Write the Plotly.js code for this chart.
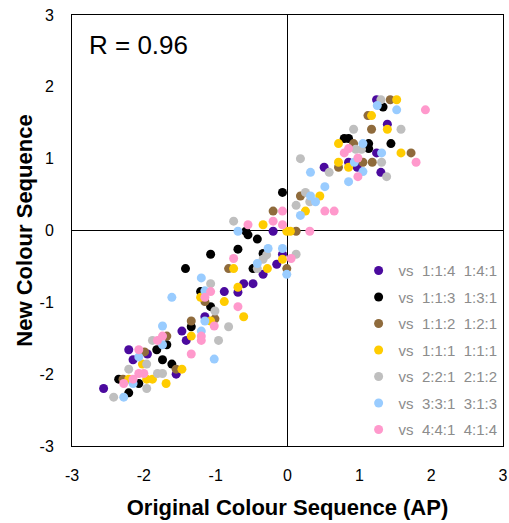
<!DOCTYPE html>
<html>
<head>
<meta charset="utf-8">
<script src="https://cdn.plot.ly/plotly-2.35.2.min.js"></script>
<style>html,body{margin:0;padding:0;background:#fff;}#chart{width:509px;height:523px;}</style>
</head>
<body>
<div id="chart"></div>
<script>
const seriesNames = ["vs\u00a0\u00a01:1:4\u00a0\u00a01:4:1","vs\u00a0\u00a01:1:3\u00a0\u00a01:3:1","vs\u00a0\u00a01:1:2\u00a0\u00a01:2:1","vs\u00a0\u00a01:1:1\u00a0\u00a01:1:1","vs\u00a0\u00a02:2:1\u00a0\u00a02:1:2","vs\u00a0\u00a03:3:1\u00a0\u00a03:1:3","vs\u00a0\u00a04:4:1\u00a0\u00a04:1:4"];
const seriesColors = ["#4b0a9e","#000000","#8f6b3c","#ffcc00","#bfbfbf","#99ccff","#ff99cc"];

const purpleX = [1.24,1.39,1.24,0.85,0.97,0.51,1.30,-0.20,-0.07,-0.15,-0.34,-0.61,-0.48,-0.88,-0.69,-1.15,-1.47,-1.41,-2.21,-2.15,-1.95,-1.55,-2.56];
const purpleY = [1.82,1.48,1.08,0.95,0.88,0.88,0.81,-0.01,-0.33,-0.47,-0.61,-0.74,-0.74,-0.85,-0.86,-1.20,-1.40,-1.53,-1.66,-1.80,-1.72,-2.00,-2.20];

const blackX = [1.33,0.79,0.85,1.13,1.13,1.44,-0.07,-0.58,-0.55,-0.42,-0.69,-1.07,-1.42,-0.48,-0.34,-1.21,-1.07,-1.34,-1.82,-1.74,-1.61,-2.35,-2.07,-2.21,-1.68];
const blackY = [1.72,1.28,1.28,1.21,1.14,1.21,0.53,-0.01,-0.06,-0.12,-0.26,-0.33,-0.53,-0.53,-0.32,-0.85,-1.06,-1.34,-1.66,-1.80,-1.86,-2.07,-2.13,-2.26,-1.59];

const brownX = [1.43,1.12,1.17,0.92,1.72,1.05,1.18,0.71,0.18,-0.20,0.12,-0.01,-0.82,-1.34,-1.01,-1.15,-1.68,-1.99,-1.55,-2.29];
const brownY = [1.82,1.60,1.41,1.21,1.08,0.95,0.95,0.88,0.48,0.27,-0.01,-0.53,-0.53,-1.26,-1.23,-0.99,-1.47,-1.69,-1.93,-2.07];

const yellowX = [1.52,1.17,1.39,0.71,1.58,0.71,0.85,0.45,0.25,-0.34,-0.01,0.04,-0.07,-0.75,-0.28,-0.69,-1.21,-0.88,-0.61,-1.07,-1.34,-2.02,-1.47,-1.96,-1.88,-1.69,-2.21];
const yellowY = [1.82,1.60,1.41,1.21,1.08,0.95,0.88,0.48,0.27,0.08,-0.01,-0.01,-0.40,-0.53,-0.53,-0.79,-0.93,-0.99,-1.20,-1.26,-1.47,-1.86,-1.93,-2.07,-2.07,-2.13,-2.07];

const grayX = [1.30,0.92,1.58,0.95,1.03,0.18,1.31,0.58,1.38,0.25,0.12,0.31,-0.75,-0.29,-0.34,0.12,-0.42,-1.07,-1.01,-0.82,-0.96,-1.88,-1.96,-2.21,-1.81,-1.74,-1.96,-2.42];
const grayY = [1.82,1.41,1.41,1.13,1.13,1.00,0.95,0.81,0.75,0.53,0.35,0.40,0.13,-0.34,-0.40,-0.33,-0.53,-0.74,-1.12,-1.34,-1.53,-1.53,-1.86,-1.93,-1.99,-1.99,-2.20,-2.32];

const blueX = [1.25,1.52,1.05,1.31,0.93,1.05,0.32,0.85,0.52,0.32,0.39,0.18,-0.69,-0.27,-0.07,-0.42,-0.01,-1.20,-1.15,-1.61,-1.15,-1.20,-1.74,-1.02,-1.74,-2.07,-2.15,-2.28];
const blueY = [1.74,1.68,1.21,1.08,0.95,0.82,0.81,0.68,0.61,0.48,0.40,0.21,-0.01,-0.25,-0.25,-0.46,-0.61,-0.66,-0.84,-0.93,-1.26,-1.40,-1.33,-1.79,-1.59,-1.76,-2.13,-2.32];

const pinkX = [1.92,1.79,0.85,0.79,0.98,0.98,-0.07,0.52,0.65,-0.55,-0.20,-0.07,0.31,0.05,-0.75,-1.07,-1.15,-0.69,-1.02,-1.20,-1.20,-1.81,-1.74,-1.34,-2.07,-2.07,-2.00,-2.15,-2.28];
const pinkY = [1.68,0.95,1.14,1.08,1.01,0.75,0.27,0.27,0.27,0.08,0.13,0.08,-0.01,-0.39,-0.39,-0.85,-0.93,-1.06,-1.33,-1.47,-1.53,-1.53,-1.47,-1.72,-1.66,-1.99,-1.99,-2.07,-2.13];

const tickVals = [-3,-2,-1,0,1,2,3];
const tickText = ["-3","-2","-1","0","1","2","3"];
const xTitle = "Original Colour Sequence (AP)";
const yTitle = "New Colour Sequence";
const rLabel = "R = 0.96";

const xs = [purpleX, blackX, brownX, yellowX, grayX, blueX, pinkX];
const ys = [purpleY, blackY, brownY, yellowY, grayY, blueY, pinkY];

const FONT = "Liberation Sans, Arial, Helvetica, sans-serif";

const traces = xs.map((x, i) => ({
  type: "scatter",
  mode: "markers",
  x: x,
  y: ys[i],
  name: seriesNames[i],
  legendgroup: "g" + i,
  marker: { color: seriesColors[i], size: 9, line: { width: 0 } },
  hoverinfo: "x+y"
}));

const axisCommon = {
  range: [-3, 3],
  tickvals: tickVals,
  ticktext: tickText,
  showgrid: false,
  zeroline: true,
  zerolinecolor: "#000",
  zerolinewidth: 1,
  showline: true,
  linecolor: "#000",
  linewidth: 1,
  mirror: true,
  ticks: "",
  tickfont: { family: FONT, size: 16, color: "#000" },
  fixedrange: true
};

const layout = {
  width: 509,
  height: 523,
  margin: { l: 72, r: 6, t: 15, b: 77 },
  paper_bgcolor: "#fff",
  plot_bgcolor: "#fff",
  font: { family: FONT },
  xaxis: Object.assign({}, axisCommon, {
    ticklabelstandoff: 15,
    title: { text: xTitle, font: { family: FONT, size: 22, color: "#000", weight: "bold" }, standoff: 16 }
  }),
  yaxis: Object.assign({}, axisCommon, {
    ticklabelstandoff: 14,
    title: { text: yTitle, font: { family: FONT, size: 22, color: "#000", weight: "bold" }, standoff: 0 }
  }),
  showlegend: true,
  legend: {
    x: 0.665, xanchor: "left",
    y: 0.445, yanchor: "top",
    bgcolor: "rgba(0,0,0,0)",
    borderwidth: 0,
    font: { family: FONT, size: 15, color: "#8c8c8c" },
    tracegroupgap: 4
  },
  annotations: [{
    text: rLabel, xref: "paper", yref: "paper", x: 0.035, y: 0.93,
    xanchor: "left", yanchor: "middle", showarrow: false,
    font: { family: FONT, size: 26, color: "#000" }
  }]
};

Plotly.newPlot("chart", traces, layout, { displayModeBar: false, staticPlot: true });
</script>
</body>
</html>
